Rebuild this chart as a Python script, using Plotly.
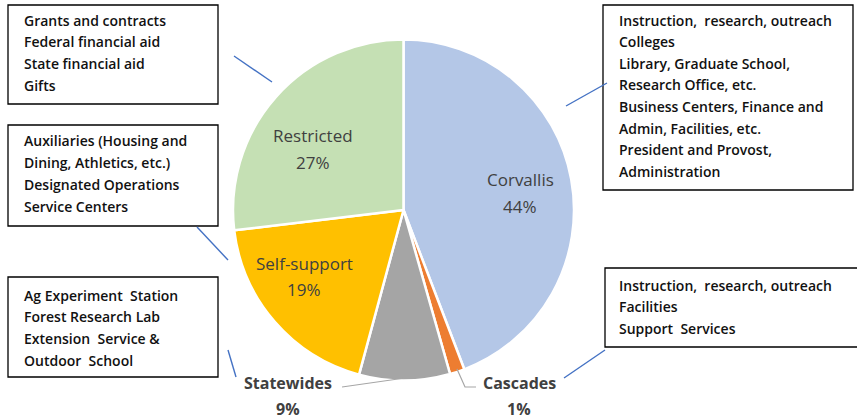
import plotly.graph_objects as go

W, H = 857, 420

categories = ["Corvallis", "Cascades", "Statewides", "Self-support", "Restricted"]
values = [44.2, 1.4, 8.6, 18.9, 26.9]
colors = ["#B4C7E7", "#ED7D31", "#A5A5A5", "#FFC000", "#C5E0B4"]

box_texts = {
    "restricted": ["Grants and contracts", "Federal financial aid", "State financial aid", "Gifts"],
    "corvallis": ["Instruction,  research, outreach", "Colleges", "Library, Graduate School,",
                  "Research Office, etc.", "Business Centers, Finance and",
                  "Admin, Facilities, etc.", "President and Provost,", "Administration"],
    "selfsupport": ["Auxiliaries (Housing and", "Dining, Athletics, etc.)",
                    "Designated Operations", "Service Centers"],
    "statewides": ["Ag Experiment  Station", "Forest Research Lab",
                   "Extension  Service &", "Outdoor  School"],
    "cascades": ["Instruction,  research, outreach", "Facilities", "Support  Services"],
}


def px(x):
    return x / W


def py(y):
    return 1 - y / H


cx, cy, r = 403.5, 210, 170.5

fig = go.Figure(go.Pie(
    labels=categories, values=values, sort=False, direction="clockwise", rotation=0,
    marker=dict(colors=colors, line=dict(color="white", width=2.5)),
    textinfo="none", hoverinfo="label+percent", showlegend=False,
    domain=dict(x=[px(cx - r), px(cx + r)], y=[py(cy + r), py(cy - r)]),
))

shapes = []
annotations = []

# boxes: (key, x0, y0, x1, y1, text_x, first_line_y, line_step)
boxes = [
    ("restricted", 8, 5, 218, 104, 22, 20, 21.7),
    ("corvallis", 603, 5, 853, 190, 617, 20, 21.6),
    ("selfsupport", 8, 125, 218, 226, 22, 141, 21.7),
    ("statewides", 8, 277, 218, 377, 22, 295, 21.7),
    ("cascades", 605, 268, 870, 347, 617, 285, 21.6),
]
for key, x0, y0, x1, y1, tx, fy, step in boxes:
    shapes.append(dict(type="rect", xref="paper", yref="paper",
                       x0=px(x0), x1=px(x1), y0=py(y1), y1=py(y0),
                       line=dict(color="#000000", width=1.3), fillcolor="white", layer="below"))
    for i, line in enumerate(box_texts[key]):
        annotations.append(dict(xref="paper", yref="paper", x=px(tx), y=py(fy + i * step),
                                xanchor="left", yanchor="middle", showarrow=False, text=line,
                                font=dict(family="Open Sans", size=14, color="#111111", weight=600)))

# blue connector lines
blue_lines = [
    (234, 56, 272, 82),
    (607, 83, 566, 106),
    (197, 227, 228, 260),
    (228, 350, 236, 377),
    (605, 350, 564, 378),
]
for x0, y0, x1, y1 in blue_lines:
    shapes.append(dict(type="line", xref="paper", yref="paper", x0=px(x0), y0=py(y0),
                       x1=px(x1), y1=py(y1), line=dict(color="#4472C4", width=1.4)))

# gray leader lines for outside labels
shapes.append(dict(type="path", xref="paper", yref="paper",
                   path=f"M {px(342)},{py(387)} L {px(405)},{py(378)}",
                   line=dict(color="#A6A6A6", width=1.2)))
shapes.append(dict(type="path", xref="paper", yref="paper",
                   path=f"M {px(457)},{py(369)} L {px(465)},{py(387)} L {px(476)},{py(387)}",
                   line=dict(color="#A6A6A6", width=1.2)))

total = sum(values)
pct = {c: f"{round(v / total * 100)}%" for c, v in zip(categories, values)}

label_font = dict(family="Open Sans", size=17, color="#404040")
inside = {"Corvallis": (520, 179, 206), "Restricted": (313, 136, 163), "Self-support": (304, 263, 289)}
for c, (x, y1, y2) in inside.items():
    for txt, yy in ((c, y1), (pct[c], y2)):
        annotations.append(dict(xref="paper", yref="paper", x=px(x), y=py(yy), showarrow=False,
                                xanchor="center", yanchor="middle", text=txt, font=label_font))

out_font = dict(family="Open Sans", size=16, color="#404040")
outside = {"Statewides": (288, 383, 409), "Cascades": (519, 383, 409)}
for c, (x, y1, y2) in outside.items():
    for txt, yy in ((c, y1), (pct[c], y2)):
        annotations.append(dict(xref="paper", yref="paper", x=px(x), y=py(yy), showarrow=False,
                                xanchor="center", yanchor="middle", text=f"<b>{txt}</b>",
                                font=out_font))

fig.update_layout(width=W, height=H, margin=dict(l=0, r=0, t=0, b=0),
                  paper_bgcolor="white", plot_bgcolor="white",
                  shapes=shapes, annotations=annotations)

fig.write_html("out.html")
